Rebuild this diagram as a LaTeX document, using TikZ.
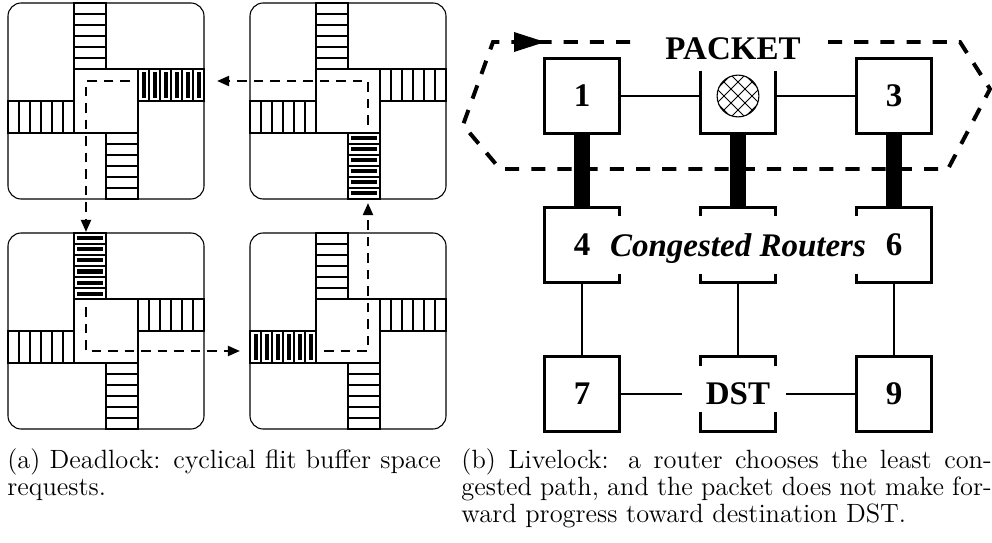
\documentclass[tikz,border=0pt]{standalone}
\usepackage{fontspec}
\newfontfamily\timesfont{Liberation Serif}
\usetikzlibrary{calc,arrows.meta}

\newcommand\nsbuf[3][buf]{%
  \draw[#1] (#2,#3) rectangle ++(32,66);
  \foreach \k in {1,...,5} \draw[#1] (#2,#3+\k*11) -- ++(32,0);}
\newcommand\ewbuf[3][buf]{%
  \draw[#1] (#2,#3) rectangle ++(66,32);
  \foreach \k in {1,...,5} \draw[#1] (#2+\k*11,#3) -- ++(0,32);}
\newcommand\nsfull[2]{%
  \nsbuf[fullbuf]{#1}{#2}
  \foreach \k in {0,...,5} \fill (#1+3,#2+\k*11+3.5) rectangle ++(26,4);}
\newcommand\ewfull[2]{%
  \ewbuf[fullbuf]{#1}{#2}
  \foreach \k in {0,...,5} \fill (#1+\k*11+3.5,#2+3) rectangle ++(4,26);}
\newcommand\routertile[3]{%
  \begin{scope}[shift={(#1,#2)}]
    \draw[tileline] (0,0) rectangle (196,196);
    \draw[buf] (66,66) rectangle (130,130);
    \nsbuf{66}{0} \nsbuf{98}{130} \ewbuf{130}{66} \ewbuf{0}{98}
    #3
  \end{scope}}

\begin{document}
\begin{tikzpicture}[x=0.4545pt, y=-0.4545pt,
    tileline/.style={line width=0.5pt, rounded corners=6pt},
    buf/.style={line width=0.65pt},
    fullbuf/.style={line width=0.9pt},
    flow/.style={line width=1.1pt, dash pattern=on 4.5pt off 3pt,
      -{Triangle[length=5.5pt,width=4.5pt]}},
    router/.style={draw, line width=1.5pt, minimum size=34pt, inner sep=0pt,
      outer sep=0pt, text depth=0pt,
      font=\timesfont\bfseries\fontsize{15}{18}\selectfont},
    openrouter/.style={router, draw=none},
    boxline/.style={line width=1.5pt},
    link/.style={line width=1.3pt},
    thickbar/.style={line width=7.3pt},
    route/.style={line width=1.8pt, dash pattern=on 6.4pt off 5.5pt},
    caption/.style={font=\fontsize{12}{14}\selectfont, inner sep=0pt, anchor=base west}]
  \useasboundingbox (0,0) rectangle (992,543);

  % (a) four routers in a cycle
  \routertile{8}{3}{\ewfull{130}{66}}
  \routertile{250}{3}{\nsfull{98}{130}}
  \routertile{8}{233}{\nsfull{66}{0}}
  \routertile{250}{233}{\ewfull{0}{98}}

  \coordinate (a1) at (130,81);  \coordinate (a2) at (86,81);   \coordinate (a3) at (86,232);
  \coordinate (b1) at (368,125); \coordinate (b2) at (368,81);  \coordinate (b3) at (217,81);
  \coordinate (c1) at (86,307);  \coordinate (c2) at (86,351);  \coordinate (c3) at (240,351);
  \coordinate (d1) at (324,351); \coordinate (d2) at (368,351); \coordinate (d3) at (368,203);
  \draw[flow] (a1) -- (a2) -- (a3);
  \draw[flow] (b1) -- (b2) -- (b3);
  \draw[flow] (c1) -- (c2) -- (c3);
  \draw[flow] (d1) -- (d2) -- (d3);

  % (b) mesh
  \node[router]     (r1) at (582,96)  {1};
  \node[openrouter] (r2) at (738,96)  {};
  \node[router]     (r3) at (894,96)  {3};
  \node[openrouter] (r4) at (582,245) {4};
  \node[openrouter] (r5) at (738,245) {};
  \node[openrouter] (r6) at (894,245) {6};
  \node[router]     (r7) at (582,394) {7};
  \node[openrouter] (r8) at (738,394) {DST};
  \node[router]     (r9) at (894,394) {9};
  \node[font=\timesfont\bfseries\itshape\fontsize{15}{18}\selectfont, inner sep=0pt,
    text depth=0pt] (cong) at (r5) {Congested Routers};

  \draw[boxline] ($(r2.north west)+(0,12)$) -- (r2.south west) -- (r2.south east) -- ($(r2.north east)+(0,12)$);
  \draw[boxline] ($(r4.north east)+(0,8)$) -- (r4.north east) -- (r4.north west) -- (r4.south west) -- (r4.south east) -- ($(r4.south east)+(0,-8)$);
  \draw[boxline] ($(r6.north west)+(0,8)$) -- (r6.north west) -- (r6.north east) -- (r6.south east) -- (r6.south west) -- ($(r6.south west)+(0,-8)$);
  \draw[boxline] ($(r5.north west)+(0,8)$) -- (r5.north west) -- (r5.north east) -- ($(r5.north east)+(0,8)$);
  \draw[boxline] ($(r5.south west)+(0,-8)$) -- (r5.south west) -- (r5.south east) -- ($(r5.south east)+(0,-8)$);
  \draw[boxline] ($(r8.north west)+(0,9)$) -- (r8.north west) -- (r8.north east) -- ($(r8.north east)+(0,9)$);
  \draw[boxline] ($(r8.south west)+(0,-19)$) -- (r8.south west) -- (r8.south east) -- ($(r8.south east)+(0,-19)$);

  \draw[link] (r1.east) -- (r2.west);
  \draw[link] (r2.east) -- (r3.west);
  \draw[thickbar] (r1.south) -- (r4.north);
  \draw[thickbar] (r2.south) -- (r5.north);
  \draw[thickbar] (r3.south) -- (r6.north);
  \draw[link] (r4.south) -- (r7.north);
  \draw[link] (r5.south) -- (r8.north);
  \draw[link] (r6.south) -- (r9.north);
  \draw[link, shorten >=8.4pt] (r7.east) -- (r8.west);
  \draw[link, shorten <=4.8pt] (r8.east) -- (r9.west);

  \node[circle, draw, line width=0.5pt, minimum size=19pt, inner sep=0pt] (pkt) at (r2) {};
  \begin{scope}
    \clip (pkt.center) circle (9.5pt);
    \foreach \d in {-42,-28,...,42} {
      \draw[line width=0.4pt] ($(pkt)+(\d-30,-30)$) -- ++(60,60);
      \draw[line width=0.4pt] ($(pkt)+(\d-30,30)$) -- ++(60,-60);
    }
  \end{scope}

  \coordinate (h1) at (828,42);  \coordinate (h2) at (960,42);
  \coordinate (h3) at (990,89);  \coordinate (h4) at (948,169);
  \coordinate (h5) at (500,169); \coordinate (h6) at (463,125);
  \coordinate (h7) at (493,42);  \coordinate (h8) at (636,42);
  \draw[route] (h1) -- (h2) -- (h3) -- (h4) -- (h5) -- (h6) -- (h7) -- (h8);
  \fill (514,32) -- (545,42) -- (514,52) -- cycle;
  \node[font=\timesfont\bfseries\fontsize{15}{18}\selectfont, inner sep=0pt]
    (packet) at (733,49) {PACKET};

  % captions
  \node[caption] (capa1) at (7,468) {\makebox[197pt][s]{(a) Deadlock: cyclical flit buffer space}};
  \node[caption] (capa2) at (7,495) {requests.};
  \node[caption] (capb1) at (461,468) {\makebox[241pt][s]{(b) Livelock: a router chooses the least con-}};
  \node[caption] (capb2) at (461,495) {\makebox[241pt][s]{gested path, and the packet does not make for-}};
  \node[caption] (capb3) at (461,522) {ward progress toward destination DST.};
\end{tikzpicture}
\end{document}
